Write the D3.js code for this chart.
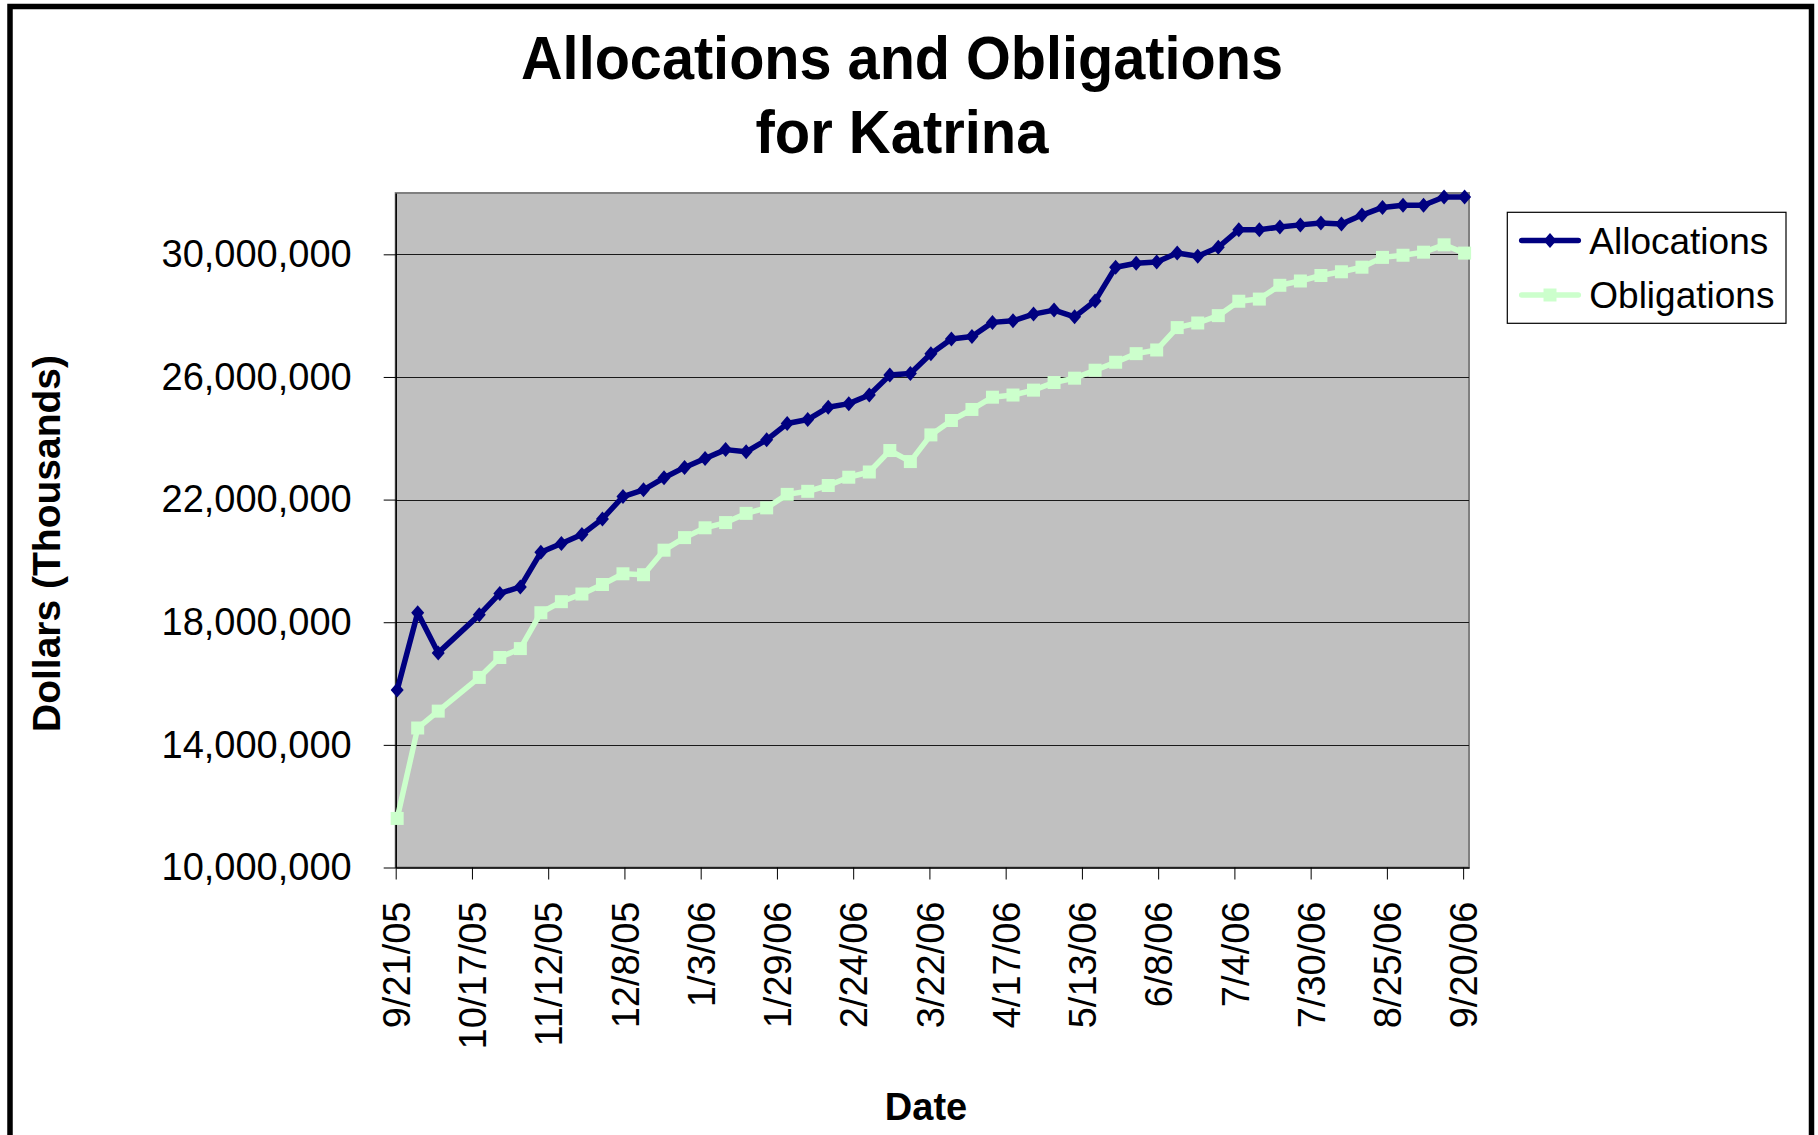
<!DOCTYPE html>
<html>
<head>
<meta charset="utf-8">
<script src="https://d3js.org/d3.v7.min.js"></script>
<style>
  body { margin: 0; background: #fff; }
  svg { display: block; font-family: "Liberation Sans", Arial, sans-serif; }
</style>
</head>
<body>
<svg id="chart" width="1818" height="1135"></svg>
<script>
// weekly dates (10/12/05 has no entry)
var dates = [
  "9/21/05", "9/28/05", "10/5/05", "10/19/05", "10/26/05", "11/2/05", "11/9/05",
  "11/16/05", "11/23/05", "11/30/05", "12/7/05", "12/14/05", "12/21/05", "12/28/05",
  "1/4/06", "1/11/06", "1/18/06", "1/25/06", "2/1/06", "2/8/06", "2/15/06",
  "2/22/06", "3/1/06", "3/8/06", "3/15/06", "3/22/06", "3/29/06", "4/5/06",
  "4/12/06", "4/19/06", "4/26/06", "5/3/06", "5/10/06", "5/17/06", "5/24/06",
  "5/31/06", "6/7/06", "6/14/06", "6/21/06", "6/28/06", "7/5/06", "7/12/06",
  "7/19/06", "7/26/06", "8/2/06", "8/9/06", "8/16/06", "8/23/06", "8/30/06",
  "9/6/06", "9/13/06", "9/20/06"
];

// Dollars (Thousands)
var allocations = [
  15790000, 18310000, 17000000, 18240000, 18940000, 19150000, 20280000,
  20570000, 20860000, 21370000, 22100000, 22320000, 22710000, 23050000,
  23340000, 23630000, 23560000, 23950000, 24480000, 24610000, 25010000,
  25130000, 25410000, 26060000, 26110000, 26760000, 27240000, 27320000,
  27780000, 27830000, 28050000, 28180000, 27960000, 28480000, 29580000,
  29710000, 29750000, 30040000, 29940000, 30230000, 30800000, 30800000,
  30890000, 30960000, 31020000, 30990000, 31280000, 31530000, 31600000,
  31600000, 31870000, 31870000
];

var obligations = [
  11600000, 14550000, 15100000, 16200000, 16850000, 17140000, 18310000,
  18670000, 18920000, 19230000, 19580000, 19550000, 20350000, 20760000,
  21080000, 21250000, 21550000, 21730000, 22170000, 22270000, 22460000,
  22730000, 22900000, 23600000, 23240000, 24110000, 24580000, 24940000,
  25340000, 25410000, 25570000, 25820000, 25960000, 26220000, 26480000,
  26760000, 26880000, 27610000, 27760000, 28000000, 28470000, 28540000,
  28990000, 29130000, 29310000, 29430000, 29580000, 29900000, 29970000,
  30070000, 30310000, 30040000
];

var yTicks = [10000000, 14000000, 18000000, 22000000, 26000000, 30000000];
var xTickLabels = [
  "9/21/05", "10/17/05", "11/12/05", "12/8/05", "1/3/06", "1/29/06", "2/24/06",
  "3/22/06", "4/17/06", "5/13/06", "6/8/06", "7/4/06", "7/30/06", "8/25/06", "9/20/06"
];

var parse = d3.timeParse("%m/%d/%y");
var fmt = d3.timeFormat("%-m/%-d/%y");

var svg = d3.select("#chart");

var plot = { left: 395.7, right: 1469, top: 193, bottom: 867.5 };

var x = d3.scaleTime()
    .domain([parse("9/21/05"), parse("9/22/06")])
    .range([plot.left, plot.right]);

var y = d3.scaleLinear()
    .domain([10000000, 32000000])
    .range([plot.bottom, plot.top]);

// outer frame
svg.append("rect")
    .attr("x", 10).attr("y", 6.5)
    .attr("width", 1801.5).attr("height", 1200)
    .attr("fill", "none").attr("stroke", "#000").attr("stroke-width", 5.5);

// title
var title = svg.append("g").attr("font-weight", "bold").attr("font-size", 62)
    .attr("text-anchor", "middle");
title.append("text").attr("x", 902).attr("y", 79)
    .attr("textLength", 762).attr("lengthAdjust", "spacingAndGlyphs")
    .text("Allocations and Obligations");
title.append("text").attr("x", 902).attr("y", 153)
    .attr("textLength", 293).attr("lengthAdjust", "spacingAndGlyphs")
    .text("for Katrina");

// plot area
svg.append("rect")
    .attr("x", plot.left).attr("y", plot.top)
    .attr("width", plot.right - plot.left).attr("height", plot.bottom - plot.top)
    .attr("fill", "#c0c0c0").attr("stroke", "#808080").attr("stroke-width", 2);

svg.append("g").selectAll("line")
    .data(yTicks.slice(1))
    .enter().append("line")
    .attr("x1", plot.left).attr("x2", plot.right)
    .attr("y1", function (d) { return Math.round(y(d)) + 0.5; })
    .attr("y2", function (d) { return Math.round(y(d)) + 0.5; })
    .attr("stroke", "#1a1a1a").attr("stroke-width", 1);

// axes
var yAxis = svg.append("g")
    .attr("transform", "translate(" + plot.left + ",0)")
    .call(d3.axisLeft(y).tickValues(yTicks).tickSize(12).tickSizeOuter(0)
        .tickPadding(32).tickFormat(d3.format(",")));

var xTicks = xTickLabels.map(parse);
var xAxis = svg.append("g")
    .attr("transform", "translate(0," + plot.bottom + ")")
    .call(d3.axisBottom(x).tickValues(xTicks).tickSize(12).tickSizeOuter(0)
        .tickFormat(fmt));

xAxis.selectAll("text")
    .attr("transform", "rotate(-90)")
    .attr("x", -34).attr("y", 0).attr("dy", "0.36em")
    .style("text-anchor", "end");

[yAxis, xAxis].forEach(function (a) {
    a.attr("font-family", null).attr("font-size", 38);
    a.selectAll("text").attr("fill", "#000");
    a.selectAll("line").attr("stroke", "#000");
    a.select(".domain").attr("stroke", "#000").attr("stroke-width", 1.5);
});

// axis titles
svg.append("text")
    .attr("transform", "translate(60,543.5) rotate(-90)")
    .attr("text-anchor", "middle").attr("font-weight", "bold").attr("font-size", 39)
    .text("Dollars (Thousands)");

svg.append("text")
    .attr("x", 926).attr("y", 1120)
    .attr("text-anchor", "middle").attr("font-weight", "bold").attr("font-size", 38)
    .text("Date");

// series, plotted at mid-day
var series = [
    { name: "Allocations", values: allocations, color: "#000080", marker: "diamond" },
    { name: "Obligations", values: obligations, color: "#ccffcc", marker: "square" }
];

function markerPath(kind) {
    if (kind === "diamond") return "M0,-7.5L6.5,0L0,7.5L-6.5,0Z";
    return "M-6.5,-6.5H6.5V6.5H-6.5Z";
}

var px = function (d, i) { return x(d3.timeHour.offset(parse(dates[i]), 12)); };

var line = d3.line()
    .x(function (d, i) { return px(d, i); })
    .y(function (d) { return y(d); });

series.forEach(function (s) {
    var g = svg.append("g");
    g.append("path")
        .attr("d", line(s.values))
        .attr("fill", "none").attr("stroke", s.color).attr("stroke-width", 5.5)
        .attr("stroke-linejoin", "round");
    g.selectAll("path.mark")
        .data(s.values)
        .enter().append("path")
        .attr("class", "mark")
        .attr("d", markerPath(s.marker))
        .attr("transform", function (d, i) { return "translate(" + px(d, i) + "," + y(d) + ")"; })
        .attr("fill", s.color);
});

// legend
var legend = svg.append("g");
legend.append("rect")
    .attr("x", 1507.3).attr("y", 212.3).attr("width", 278.7).attr("height", 111)
    .attr("fill", "#fff").attr("stroke", "#000").attr("stroke-width", 1.2);

series.forEach(function (s, i) {
    var ly = 240.5 + i * 54.5;
    legend.append("line")
        .attr("x1", 1521.7).attr("x2", 1578.3).attr("y1", ly).attr("y2", ly)
        .attr("stroke", s.color).attr("stroke-width", 5.5).attr("stroke-linecap", "round");
    legend.append("path")
        .attr("d", markerPath(s.marker))
        .attr("transform", "translate(1550," + ly + ")")
        .attr("fill", s.color);
    legend.append("text")
        .attr("x", 1589.3).attr("y", ly).attr("dy", "0.36em")
        .attr("font-size", 37)
        .text(s.name);
});
</script>
</body>
</html>
